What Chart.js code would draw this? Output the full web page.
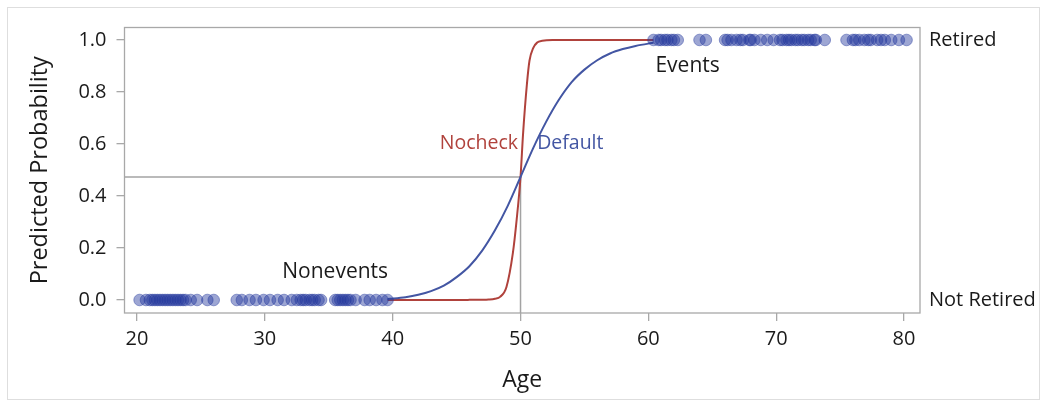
<!DOCTYPE html>
<html>
<head>
<meta charset="utf-8">
<script src="https://cdn.jsdelivr.net/npm/chart.js@4/dist/chart.umd.min.js"></script>
<style>
  html, body { margin: 0; padding: 0; background: #fff; }
  #wrap { width: 1047px; height: 409px; position: relative; }
</style>
</head>
<body>
<div id="wrap"><canvas id="c" width="1047" height="409"></canvas></div>
<script>
// Observed ages: retirees (events, Y=1) and non-retirees (nonevents, Y=0)
const noneventAges = [20.2, 20.7, 21.0, 21.2, 21.4, 21.6, 21.8, 22.0, 22.2, 22.4, 22.6, 22.8, 23.0,
  23.2, 23.4, 23.6, 23.8, 24.2, 24.7, 25.5, 26.0, 27.8, 28.2, 28.8, 29.3, 29.9, 30.4, 31.0, 31.5,
  32.1, 32.5, 32.8, 33.0, 33.2, 33.5, 33.7, 33.9, 34.2, 34.4, 35.5, 35.7, 35.9, 36.1, 36.3, 36.5,
  36.7, 37.1, 37.8, 38.2, 38.7, 39.2, 39.6];
const eventAges = [60.4, 60.8, 61.0, 61.3, 61.5, 61.8, 62.0, 62.3, 64.0, 64.5, 66.0, 66.2, 66.5,
  66.9, 67.2, 67.4, 67.9, 68.0, 68.3, 68.8, 69.3, 69.8, 70.3, 70.5, 70.8, 71.0, 71.2, 71.5, 71.7,
  72.0, 72.2, 72.5, 72.7, 73.0, 73.1, 73.8, 75.5, 76.0, 76.2, 76.5, 76.9, 77.2, 77.4, 77.9, 78.2,
  78.5, 79.0, 79.6, 80.2];

// Predicted probability curves
const defaultAges  = [39.6, 41, 42, 43, 44, 45, 46, 47, 48, 49, 50, 51, 52, 53, 54, 55, 56, 57, 58, 59, 60, 60.4];
const defaultProbs = [0.004, 0.011, 0.02, 0.034, 0.055, 0.088, 0.13, 0.19, 0.268, 0.362, 0.473,
  0.585, 0.685, 0.77, 0.838, 0.886, 0.922, 0.948, 0.965, 0.977, 0.986, 0.989];
const nocheckAges  = [39.6, 44, 46, 47, 47.5, 48, 48.4, 48.9, 49.4, 49.7, 50, 50.2, 50.5, 50.7, 51, 51.3, 51.7, 52.5, 55, 60.4];
const nocheckProbs = [0, 0, 0.0005, 0.001, 0.002, 0.005, 0.012, 0.05, 0.18, 0.31, 0.473, 0.64,
  0.83, 0.92, 0.97, 0.99, 0.997, 1, 1, 1];

// Reference lines at the cutoff
const cutoffAge = 50;
const cutoffProb = 0.473;

const xTickValues = [20, 30, 40, 50, 60, 70, 80];
const yTickValues = [0, 0.2, 0.4, 0.6, 0.8, 1.0];
const responseLevels = ['Not Retired', 'Retired'];

const X_MIN = 19.02, X_MAX = 81.25, Y_MIN = -0.05, Y_MAX = 1.048;
const FONT = "'Open Sans', 'Noto Sans', sans-serif";
const TEXT = '#1a1a1a';
const FRAME = '#a8a8a8';
const RED = '#b0423c';
const BLUE = '#4356a3';
const DOT_FILL = 'rgba(38,58,158,0.45)';
const DOT_EDGE = 'rgba(38,58,158,0.45)';

const pts = (xs, ys) => xs.map((x, i) => ({ x: x, y: ys[i] }));

const frameAndBox = {
  id: 'frameAndBox',
  beforeDraw(chart) {
    const ctx = chart.ctx;
    ctx.save();
    ctx.fillStyle = '#fff';
    ctx.fillRect(0, 0, chart.width, chart.height);
    ctx.strokeStyle = '#dedede';
    ctx.lineWidth = 1;
    ctx.strokeRect(7.5, 7.5, 1032, 392);
    ctx.restore();
  },
  beforeDatasetsDraw(chart) {
    const a = chart.chartArea, ctx = chart.ctx;
    ctx.save();
    ctx.strokeStyle = FRAME;
    ctx.lineWidth = 1.3;
    ctx.strokeRect(a.left, a.top, a.right - a.left, a.bottom - a.top);
    ctx.restore();
  }
};

const curveLabels = {
  id: 'curveLabels',
  afterDatasetsDraw(chart, args, opts) {
    const ctx = chart.ctx, xs = chart.scales.x, ys = chart.scales.y;
    ctx.save();
    opts.items.forEach(it => {
      ctx.font = it.size + 'px ' + FONT;
      ctx.fillStyle = it.color;
      ctx.textAlign = it.align;
      ctx.textBaseline = 'middle';
      ctx.fillText(it.text, xs.getPixelForValue(it.x), ys.getPixelForValue(it.y));
    });
    ctx.restore();
  }
};

new Chart(document.getElementById('c'), {
  type: 'scatter',
  data: {
    datasets: [
      {
        label: 'cutoffH', type: 'line',
        data: [{ x: X_MIN, y: cutoffProb }, { x: cutoffAge, y: cutoffProb }],
        borderColor: '#a3a3a3', borderWidth: 1.5, pointRadius: 0, order: 5
      },
      {
        label: 'cutoffV', type: 'line',
        data: [{ x: cutoffAge, y: cutoffProb }, { x: cutoffAge, y: Y_MIN }],
        borderColor: '#a3a3a3', borderWidth: 1.5, pointRadius: 0, order: 5
      },
      {
        label: 'Nocheck', type: 'line',
        data: pts(nocheckAges, nocheckProbs),
        borderColor: RED, borderWidth: 2, pointRadius: 0,
        cubicInterpolationMode: 'monotone', order: 4
      },
      {
        label: 'Default', type: 'line',
        data: pts(defaultAges, defaultProbs),
        borderColor: BLUE, borderWidth: 2, pointRadius: 0,
        cubicInterpolationMode: 'monotone', order: 3
      },
      {
        label: 'Nonevents',
        data: noneventAges.map(a => ({ x: a, y: 0 })),
        backgroundColor: DOT_FILL, borderColor: DOT_EDGE,
        borderWidth: 1, pointRadius: 5.8, order: 1
      },
      {
        label: 'Events',
        data: eventAges.map(a => ({ x: a, y: 1 })),
        backgroundColor: DOT_FILL, borderColor: DOT_EDGE,
        borderWidth: 1, pointRadius: 5.8, order: 1
      }
    ]
  },
  options: {
    responsive: false,
    animation: false,
    events: [],
    layout: { padding: { top: 27.5, left: 0, right: 0, bottom: 0 } },
    plugins: {
      legend: { display: false },
      tooltip: { enabled: false },
      curveLabels: {
        items: [
          { text: 'Nonevents', x: 35.5, y: 0.108, color: TEXT, size: 21, align: 'center' },
          { text: 'Events', x: 63.07, y: 0.9, color: TEXT, size: 21, align: 'center' },
          { text: 'Nocheck', x: 49.81, y: 0.604, color: RED, size: 19.5, align: 'right' },
          { text: 'Default', x: 51.3, y: 0.604, color: BLUE, size: 19.5, align: 'left' }
        ]
      }
    },
    scales: {
      x: {
        type: 'linear', position: 'bottom', min: X_MIN, max: X_MAX,
        afterBuildTicks: s => { s.ticks = xTickValues.map(v => ({ value: v })); },
        afterFit: s => { s.height = 96; },
        ticks: { font: { family: FONT, size: 20 }, color: TEXT, padding: 6, maxRotation: 0,
                 callback: v => String(v) },
        grid: { drawOnChartArea: false, drawTicks: true, tickLength: 8, color: FRAME, lineWidth: 1.3 },
        border: { display: false },
        title: { display: true, text: 'Age', color: TEXT, font: { family: FONT, size: 23 },
                 padding: { top: 0, bottom: 14.5 } }
      },
      y: {
        type: 'linear', position: 'left', min: Y_MIN, max: Y_MAX,
        afterBuildTicks: s => { s.ticks = yTickValues.map(v => ({ value: v })); },
        afterFit: s => { s.width = 124.5; },
        ticks: { font: { family: FONT, size: 20 }, color: TEXT, padding: 10,
                 callback: v => Number(v).toFixed(1) },
        grid: { drawOnChartArea: false, drawTicks: true, tickLength: 8, color: FRAME, lineWidth: 1.3 },
        border: { display: false },
        title: { display: true, text: 'Predicted Probability', color: TEXT,
                 font: { family: FONT, size: 23.5 }, padding: { top: 26, bottom: 0 } }
      },
      yr: {
        type: 'linear', position: 'right', min: Y_MIN, max: Y_MAX,
        afterBuildTicks: s => { s.ticks = [0, 1].map(v => ({ value: v })); },
        afterFit: s => { s.width = 127; },
        ticks: { font: { family: FONT, size: 20 }, color: TEXT, padding: 9,
                 callback: v => responseLevels[Math.round(v)] },
        grid: { drawOnChartArea: false, drawTicks: false },
        border: { display: false }
      }
    }
  },
  plugins: [frameAndBox, curveLabels]
});
</script>
</body>
</html>
